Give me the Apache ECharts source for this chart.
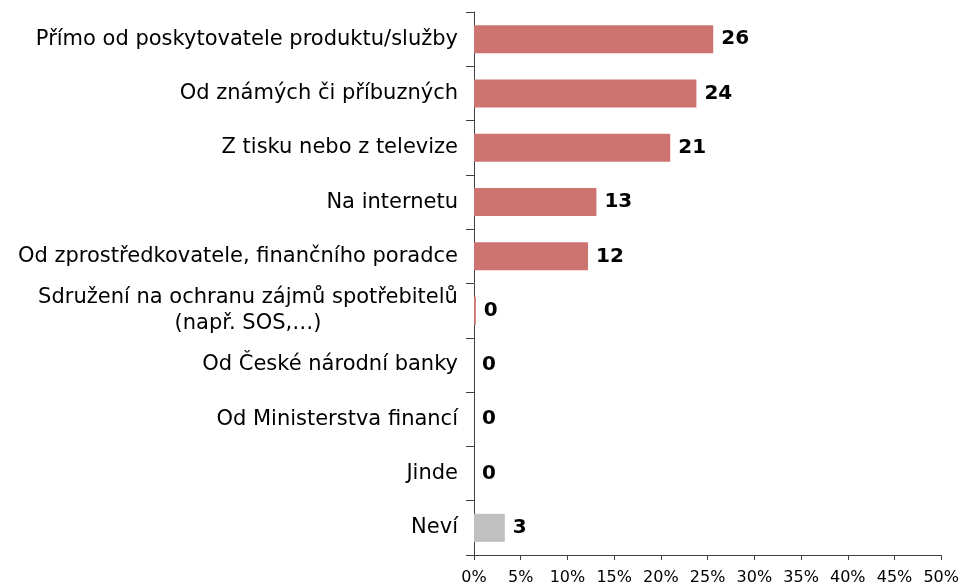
<!DOCTYPE html>
<html><head><meta charset="utf-8">
<script src="https://cdn.jsdelivr.net/npm/echarts@6/dist/echarts.min.js"></script>
<style>html,body{margin:0;padding:0;background:#fff}#c{width:962px;height:587px}</style>
</head><body><div id="c"></div>
<script>
const categories = [
  "Přímo od poskytovatele produktu/služby",
  "Od známých či příbuzných",
  "Z tisku nebo z televize",
  "Na internetu",
  "Od zprostředkovatele, finančního poradce",
  "Sdružení na ochranu zájmů spotřebitelů\n(např. SOS,…)",
  "Od České národní banky",
  "Od Ministerstva financí",
  "Jinde",
  "Neví"
];
const values = [25.6, 23.8, 21.0, 13.1, 12.2, 0.2, 0, 0, 0, 3.3];
const barColors = ["#CD7370","#CD7370","#CD7370","#CD7370","#CD7370","#CD7370","#CD7370","#CD7370","#CD7370","#C0C0C0"];
const xTicks = [0, 5, 10, 15, 20, 25, 30, 35, 40, 45, 50];

const FONT = '"DejaVu Sans", Verdana, sans-serif';
const CAT_SIZE = 21;
const ctx = document.createElement('canvas').getContext('2d');
ctx.font = CAT_SIZE + 'px ' + FONT;
function maxLineWidth(s) { return Math.max.apply(null, s.split('\n').map(l => ctx.measureText(l).width)); }

const chart = echarts.init(document.getElementById('c'));
chart.setOption({
  animation: false,
  grid: { left: 474, right: 19, top: 12, bottom: 32, containLabel: false },
  xAxis: {
    type: 'value', min: xTicks[0], max: xTicks[xTicks.length-1], interval: 5,
    axisLine: { show: true, lineStyle: { color: '#404040', width: 1 } },
    axisTick: { show: true, length: 5, lineStyle: { color: '#404040' } },
    splitLine: { show: false },
    axisLabel: { color: '#000', fontFamily: FONT, fontSize: 16, margin: 15, formatter: v => v + '%' }
  },
  yAxis: {
    type: 'category', data: categories, inverse: true,
    axisLine: { show: true, lineStyle: { color: '#404040', width: 1 } },
    axisTick: { show: true, length: 8, lineStyle: { color: '#404040' } },
    axisLabel: {
      color: '#000', fontFamily: FONT, fontSize: CAT_SIZE, margin: 16, lineHeight: 26,
      formatter: function (v) {
        if (v.indexOf('\n') >= 0) {
          const w = Math.ceil(maxLineWidth(v));
          chart.__w = w;
          return v.split('\n').map(s => '{c|' + s + '}').join('\n');
        }
        return v;
      },
      rich: { c: { width: Math.ceil(maxLineWidth(categories[5])), align: 'center', fontFamily: FONT, fontSize: CAT_SIZE, color: '#000', lineHeight: 26 } }
    }
  },
  series: [{
    type: 'bar',
    data: values.map((v, i) => ({ value: v, itemStyle: { color: barColors[i] } })),
    barWidth: 28,
    label: {
      show: true, position: 'right', distance: 8,
      fontFamily: FONT, fontSize: 20, fontWeight: 'bold', color: '#000',
      formatter: p => Math.round(p.value)
    }
  }]
});
</script></body></html>
